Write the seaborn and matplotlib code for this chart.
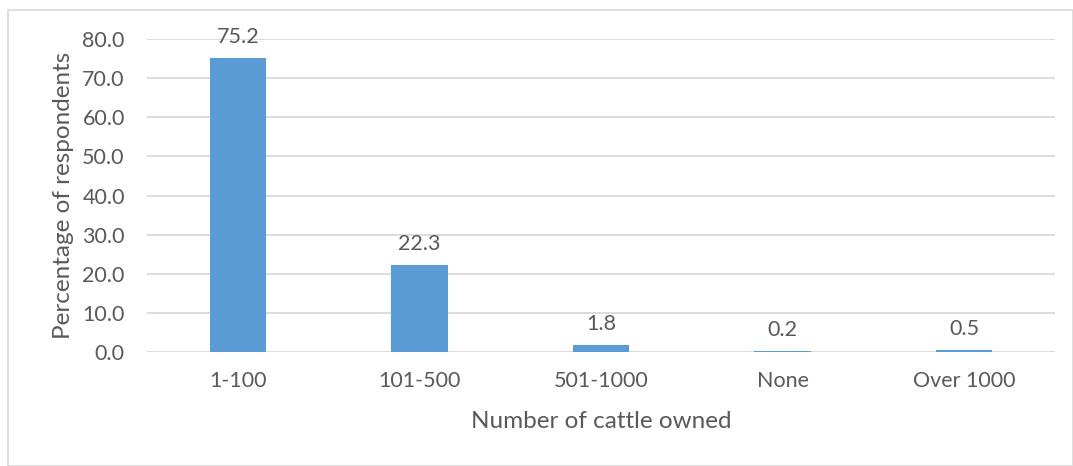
import matplotlib
matplotlib.use("Agg")
import matplotlib.pyplot as plt
import seaborn as sns
import pandas as pd
from matplotlib.patches import Rectangle
from matplotlib.ticker import FormatStrFormatter

categories = ["1-100", "101-500", "501-1000", "None", "Over 1000"]
values = [75.2, 22.3, 1.8, 0.2, 0.5]
yticks = [0, 10, 20, 30, 40, 50, 60, 70, 80]

sns.set_theme(style="white")
plt.rcParams['font.family'] = ['Lato', 'DejaVu Sans']

text_color = "#595959"
grid_color = "#d9d9d9"
bar_color = "#5b9bd5"

fig = plt.figure(figsize=(10.73, 4.66), dpi=100)
ax = fig.add_axes([147/1073, 1-352/466, (1055-147)/1073, (352-39)/466])

df = pd.DataFrame({"cat": categories, "val": values})
sns.barplot(data=df, x="cat", y="val", color=bar_color, width=0.31,
            saturation=1, ax=ax, zorder=3, linewidth=0)

ax.set_ylim(0, 80)
ax.set_yticks(yticks)
ax.yaxis.set_major_formatter(FormatStrFormatter("%.1f"))
ax.grid(axis="y", color=grid_color, linewidth=1.3, zorder=0)
ax.set_axisbelow(True)
for s in ax.spines.values():
    s.set_visible(False)
ax.tick_params(axis="both", length=0, labelsize=15.5, colors=text_color)
ax.tick_params(axis="x", pad=14)
ax.tick_params(axis="y", pad=16)

ax.set_xlabel("Number of cattle owned", fontsize=17.5, color=text_color, labelpad=14)
ax.set_ylabel("Percentage of respondents", fontsize=17.5, color=text_color, labelpad=6)

for c in ax.containers:
    ax.bar_label(c, labels=[f"{v:.1f}" for v in values], padding=8,
                 fontsize=15.5, color=text_color, clip_on=False)

fig.patches.append(Rectangle((8/1073, 0), 1 - 8/1073 - 0.5/1073, 1 - 10/466,
                             transform=fig.transFigure, fill=False,
                             edgecolor=grid_color, linewidth=1.2))

fig.savefig("out.png", dpi=100)
